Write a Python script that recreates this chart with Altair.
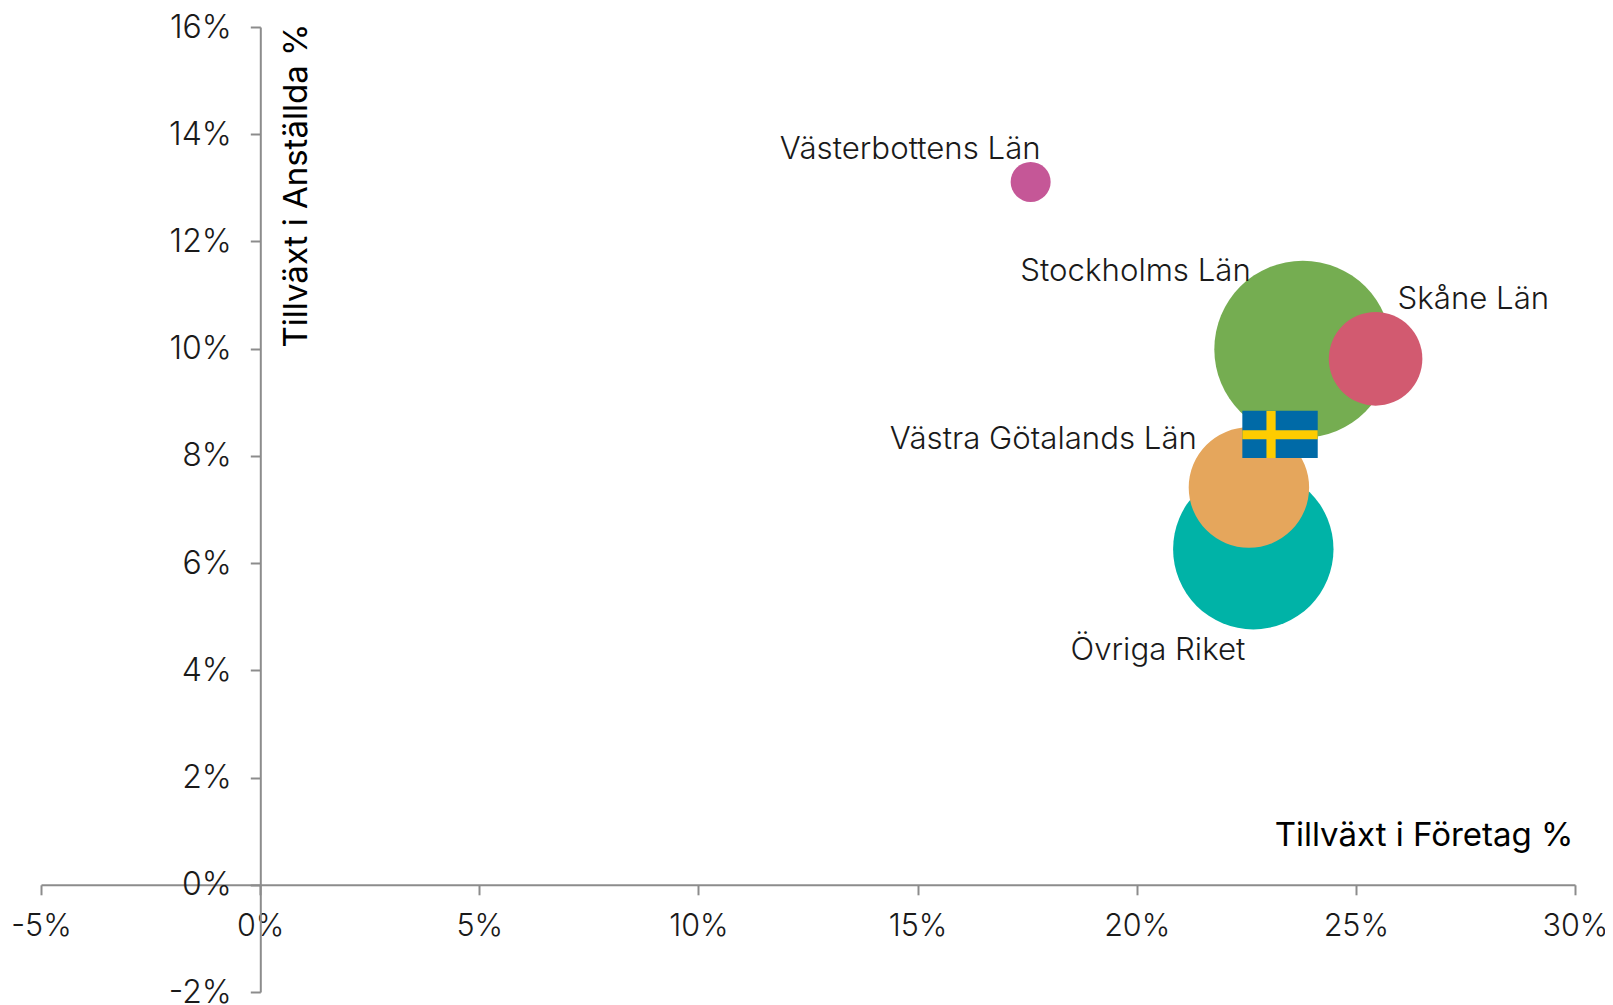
import altair as alt
import pandas as pd

names = ["Västerbottens Län", "Stockholms Län", "Skåne Län", "Övriga Riket", "Västra Götalands Län"]
foretag = [17.58, 23.79, 25.45, 22.66, 22.56]
anstallda = [13.11, 9.99, 9.81, 6.26, 7.41]
bubble = [1600, 31330, 8760, 25730, 14500]
colors = ["#C55797", "#75AD51", "#D25A70", "#00B3A7", "#E5A65C"]

x_ticks = [-5, 0, 5, 10, 15, 20, 25, 30]
y_ticks = [-2, 0, 2, 4, 6, 8, 10, 12, 14, 16]

flag_blue = {"x": [22.41], "x2": [24.13], "y": [7.96], "y2": [8.84]}
flag_v = {"x": [22.96], "x2": [23.17], "y": [7.96], "y2": [8.84]}
flag_h = {"x": [22.41], "x2": [24.13], "y": [8.31], "y2": [8.48]}

FONT = "Inter"
TXT = "#1a1a1a"
AX = "#8c8c8c"

df = pd.DataFrame({"name": names, "x": foretag, "y": anstallda, "s": bubble, "c": colors, "o": range(5)})

xs = alt.Scale(domain=[-5, 30], nice=False, zero=False)
ys = alt.Scale(domain=[-2, 16], nice=False, zero=False)

x_axis = alt.Axis(
    orient="bottom", offset=-107.2, values=x_ticks, labelExpr="datum.value + '%'", grid=False,
    domainColor=AX, domainWidth=2, tickColor=AX, tickWidth=2, tickSize=10,
    labelFont=FONT, labelFontWeight=300, labelFontSize=30.5, labelColor=TXT, labelPadding=17,
    labelFlush=False, labelOverlap=False, labelBound=False,
    title="Tillväxt i Företag %", titleFont=FONT, titleFontSize=33, titleFontWeight=400, titleColor="#000000",
    titleX=1532, titleY=-39, titleAlign="right", titleAngle=0, titleBaseline="alphabetic",
)
y_axis = alt.Axis(
    orient="left", offset=-219.3, values=y_ticks, labelExpr="datum.value + '%'", grid=False,
    domainColor=AX, domainWidth=2, tickColor=AX, tickWidth=2, tickSize=10,
    labelFont=FONT, labelFontWeight=300, labelFontSize=32, labelColor=TXT, labelPadding=19,
    labelFlush=False, labelOverlap=False, labelBound=False,
    title="Tillväxt i Anställda %", titleFont=FONT, titleFontSize=33, titleFontWeight=400, titleColor="#000000",
    titleX=46, titleY=-4, titleAlign="right", titleAngle=270, titleBaseline="alphabetic",
)

bubbles = alt.Chart(df).mark_point(filled=True, opacity=1, shape="circle", strokeWidth=0).encode(
    x=alt.X("x:Q", scale=xs, axis=x_axis),
    y=alt.Y("y:Q", scale=ys, axis=y_axis),
    size=alt.Size("s:Q", scale=None),
    color=alt.Color("c:N", scale=None),
    order=alt.Order("o:Q"),
)


def flag_part(d, col):
    return alt.Chart(pd.DataFrame(d)).mark_rect(color=col).encode(
        x=alt.X("x:Q", scale=xs, axis=x_axis), x2="x2:Q",
        y=alt.Y("y:Q", scale=ys, axis=y_axis), y2="y2:Q",
    )


label_style = {
    "Västerbottens Län": ("right", 10, -32),
    "Stockholms Län": ("right", -52, -77),
    "Skåne Län": ("left", 22, -59),
    "Övriga Riket": ("right", -8, 102),
    "Västra Götalands Län": ("right", -52, -48),
}
labels = []
for n, (al, dx, dy) in label_style.items():
    labels.append(
        alt.Chart(df[df.name == n]).mark_text(
            align=al, baseline="middle", dx=dx, dy=dy, font=FONT, fontWeight=300, fontSize=31.2, color=TXT
        ).encode(
            x=alt.X("x:Q", scale=xs, axis=x_axis),
            y=alt.Y("y:Q", scale=ys, axis=y_axis),
            text="name:N",
        )
    )

chart = alt.layer(
    bubbles,
    flag_part(flag_blue, "#006AA7"),
    flag_part(flag_v, "#FECC00"),
    flag_part(flag_h, "#FECC00"),
    *labels,
).properties(
    width=1534, height=965,
    autosize=alt.AutoSizeParams(type="none"),
    padding={"left": 33, "top": 19, "right": 30, "bottom": 12},
    background="white",
).configure_view(stroke=None)

chart.save("out.html", embed_options={"renderer": "svg", "actions": False})
